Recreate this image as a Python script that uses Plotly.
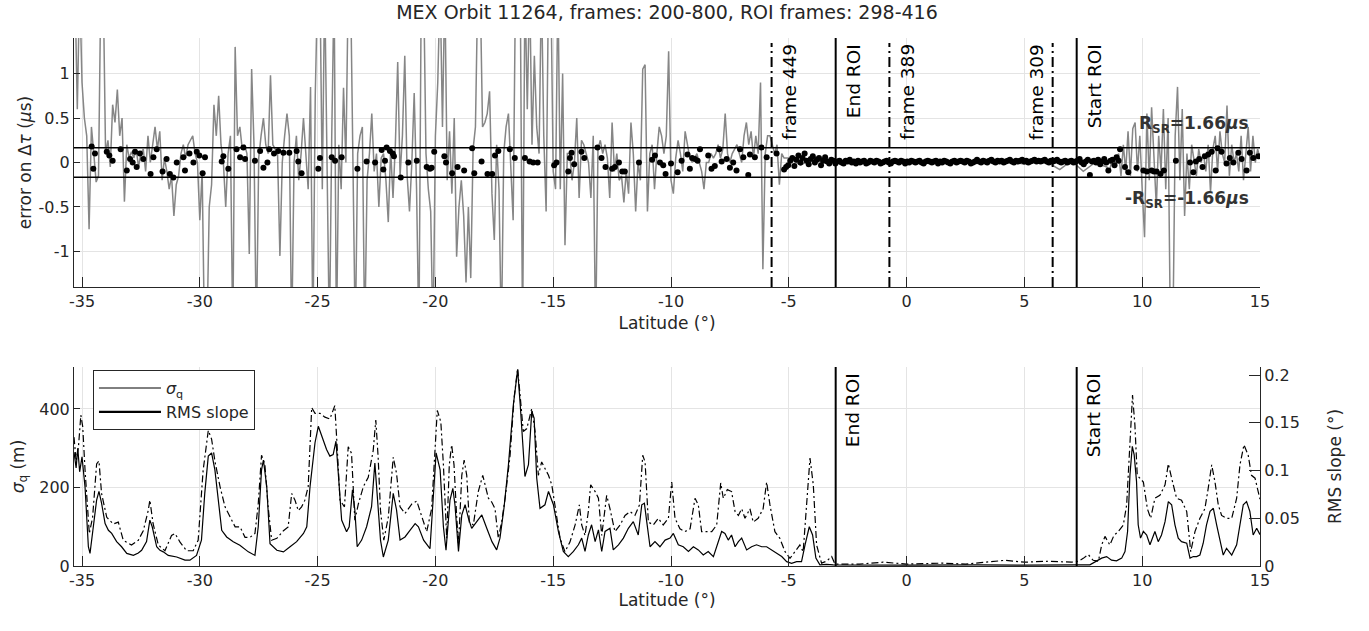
import numpy as np
import plotly.graph_objects as go

# ---------------- top panel: error on delta tau ----------------
# grey curve, one sample every 0.1 deg from -35.3 to -5.2
err_left = [
    2.0, 0.6, 2.0,
    0.9, 0.5, 0.3, -0.75, 0.4, 0.1, -0.22, -0.15, 2.0, 2.0,
    0.1, 0.25, -0.05, 0.65, 0.45, 0.82, 0.3, 0.5, -0.44, 0.2,
    0.05, 0.12, 0.05, 0.15, -0.05, 0.1, 0.15, -0.1, 0.3, 0.0,
    0.2, 0.4, 0.15, 0.35, -0.2, 0.05, -0.1, -0.3, -0.15, -0.6,
    -0.25, -0.15, 0.1, 0.2, 0.05, 0.2, 0.25, 0.3, 0.1, 0.0,
    -0.65, -0.1, -2.0, -2.0, -0.5, -0.25, 0.65, 0.3, 0.75, 0.2,
    0.0, -0.5, 0.1, 0.3, -2.0, 1.3, 0.3, 0.4, 0.15, 0.2,
    0.1, -1.03, 1.05, 0.2, -2.0, 0.05, 0.3, 0.5, 0.2, 0.1,
    0.98, 0.2, 0.15, 0.1, -1.05, 0.0, 0.3, 0.55, 0.3, -2.0,
    0.0, 0.3, -0.2, 0.1, 0.5, 0.1, -0.3, 0.85, -2.0, 0.75,
    2.0, 2.0, -0.3, 2.0, 0.2, -2.0, 0.3, 2.0, -2.0, 0.2,
    -0.3, 0.84, 0.0, 2.0, 2.0, 0.1, -2.0, 0.1, 0.3, 0.4,
    -2.0, -0.2, 0.1, 0.55, -0.1, 0.1, -0.5, 0.05, 0.1, -0.2,
    -0.67, 0.15, -0.4, 0.2, 1.13, -0.15, 0.3, 1.2, -0.15, -0.55,
    0.0, 0.78, -0.3, -2.0, 2.0, 2.0, 0.1, -0.3, -0.55, -2.0,
    0.3, 0.9, 2.0, 0.4, 2.0, -0.2, 0.35, -0.35, 0.5, -1.06,
    -0.5, -0.2, -0.6, -1.35, -0.5, -1.3, 0.15, 0.4, 2.0, 2.0,
    0.4, 0.45, 0.55, 0.8, -0.35, -0.87, 0.2, -0.3, -2.0, 0.1,
    0.4, 0.55, -0.1, -0.65, 2.0, 2.0, 2.0, -2.0, 2.0, 0.6,
    2.0, 0.2, 1.2, 0.4, 0.1, 2.0, 0.3, -0.55, 2.0, 2.0,
    -0.1, -0.3, 2.0, -0.3, 1.0, -0.93, 0.1, 0.1, -0.2, 0.0,
    0.5, -0.4, 0.25, 0.2, 0.1, 0.0, -0.4, 0.3, -2.0, 0.15,
    0.25, 0.1, 0.2, 0.05, -0.4, 0.45, -0.1, 0.1, -0.2, -0.15,
    -0.45, -0.1, -0.35, 0.45, 0.1, -0.55, 0.0, -0.2, 1.05, 1.1,
    -0.55, 0.1, 0.2, -0.3, 0.1, 0.4, 0.3, 0.1, 0.3, 1.25,
    -0.2, -0.35, 0.05, 0.25, 0.1, -0.1, 0.35, 0.2, 0.05, 0.0,
    0.05, 0.1, 0.0, -0.1, -0.3, 0.0, 0.0, 0.1, 0.05, 0.1,
    0.2, 0.05, 0.15, 0.55, 0.1, 0.0, 0.1, 0.15, 0.2, 0.1,
    0.0, 0.3, 0.45, 0.2, 0.35, 0.05, 0.3, 0.1, 0.9, -1.2,
    0.1, 0.3, 0.3, 0.2, 0.1, 0.2, -0.25, 0.1, 0.05,
]
# inside the ROI, one sample every 0.5 deg from -5.0 to 8.5
err_mid = [0.05, -0.03, 0.04, 0.0, 0.02, -0.01, 0.02, 0.01, 0.0, 0.02,
           -0.02, 0.01, 0.02, 0.0, -0.01, 0.02, 0.01, 0.0, 0.02, 0.01,
           -0.02, 0.03, 0.0, -0.08, 0.02, -0.1, 0.0, -0.05]
# one sample every 0.1 deg from 8.6 to 15.0
err_right = [
    -0.1, 0.0, -0.05, 0.05,
    0.1, -0.15, 0.2, -0.1, 0.35, -0.15, 0.38, 0.45, -0.1, 0.3,
    -0.3, -0.84, 0.55, -0.2, 0.62, 0.1, -0.5, 0.3, -0.1, 0.6,
    -0.3, 0.5, -2.0, -2.0, 0.3, 0.85, -0.2, 0.6, -0.6, 0.1,
    -0.3, 0.2, 0.0, -0.15, 0.15, 0.0, 0.1, -0.1, 0.2, -0.33,
    0.15, 0.3, -0.1, 0.35, 0.1, 0.0, 0.64, -0.15, 0.2, 0.0,
    0.1, -0.1, 0.3, -0.2, 0.1, 0.4, -0.1, 0.3, 0.0, 0.15,
    0.05,
]

# black dots: outside the ROI read point by point
dot_lat_a = [-34.59, -34.52, -34.45, -33.95, -33.84, -33.70, -33.36, -33.10, -32.96, -32.85,
             -32.75, -32.68, -32.54, -32.40, -32.09, -31.97, -31.83, -31.58, -31.41, -31.27,
             -31.12, -30.98, -30.70, -30.63, -30.44, -30.27, -30.13, -30.02, -29.88, -29.78,
             -29.07, -29.00, -28.79, -28.44, -28.29, -28.15, -28.08, -27.66, -27.44, -27.30,
             -27.13, -27.05, -26.85, -26.67, -26.45, -26.20, -25.89, -25.82, -25.68, -24.97,
             -24.90, -24.40, -24.26, -23.98, -23.31, -22.92, -22.56, -22.28, -22.21, -22.14,
             -22.07, -21.93, -21.81, -21.76, -21.47, -21.15, -20.79]
dot_err_a = [0.18, -0.07, 0.10, 0.12, 0.08, 0.02, 0.15, -0.09, 0.04, 0.00,
             0.12, -0.05, 0.10, 0.04, -0.13, 0.06, 0.15, -0.10, 0.04, -0.13,
             -0.17, 0.00, 0.06, -0.09, 0.10, 0.00, 0.12, 0.08, -0.12, 0.06,
             0.01, 0.07, -0.07, 0.15, 0.06, 0.17, 0.04, 0.02, 0.13, -0.06,
             0.00, 0.15, 0.10, 0.13, 0.11, 0.11, 0.13, 0.01, -0.12, -0.07,
             0.05, 0.06, 0.02, 0.06, -0.07, 0.01, 0.00, 0.14, -0.08, 0.02,
             0.17, 0.13, 0.10, 0.07, -0.17, 0.00, 0.02]
dot_lat_b = [-20.37, -20.23, -20.16, -20.05, -19.62, -19.55, -19.29, -19.06, -18.78,
             -18.44, -18.35, -18.04, -17.79, -17.59, -17.47, -17.33, -16.84, -16.63, -16.20,
             -16.00, -15.85, -15.66, -14.96, -14.86, -14.36, -14.29, -14.22, -14.11, -13.80,
             -13.68, -13.12, -12.95, -12.78, -12.50, -12.38, -12.21, -12.07, -11.96, -11.36,
             -10.80, -10.68, -10.47, -10.33, -10.23, -10.00, -9.72, -9.55, -9.30, -9.20,
             -9.10, -8.98, -8.87, -8.77, -8.42, -8.28, -8.14, -7.95, -7.85, -7.64,
             -7.50, -7.36, -7.22, -7.07, -6.93, -6.72, -6.65, -6.44, -6.16, -5.94,
             -5.52]
dot_err_b = [-0.05, -0.07, -0.06, 0.12, 0.07, 0.00, -0.12, -0.05, -0.09,
             0.16, -0.12, 0.01, -0.13, -0.13, 0.08, 0.13, 0.15, 0.05, 0.05,
             0.01, 0.00, 0.00, -0.03, 0.00, -0.10, 0.05, 0.11, -0.02, 0.12,
             0.05, 0.17, 0.05, -0.05, -0.07, -0.05, 0.00, -0.10, -0.10, 0.00,
             0.03, 0.08, 0.00, -0.03, -0.13, -0.01, -0.11, 0.02, 0.09, -0.07,
             0.05, 0.04, 0.02, 0.15, 0.08, -0.07, -0.04, 0.15, 0.01, 0.04,
             -0.06, 0.00, -0.09, 0.15, 0.06, -0.14, 0.09, 0.06, 0.17, 0.06,
             0.10]
# dense dots, one per frame from -5.2 to 9.0
dot_err_roi = [
    -0.08, -0.05, -0.03, 0.02, 0.05, -0.04, 0.03, 0.08, 0.0, 0.05,
    0.10, 0.02, -0.02, 0.04, 0.07, 0.0, 0.03, 0.05, -0.03, 0.02,
    0.06, 0.01, -0.01, 0.03, 0.02, -0.01,
    0.01, 0.02, 0.0, -0.01, 0.02, 0.01, 0.03, 0.0, 0.01, -0.01,
    0.02, 0.0, 0.01, 0.02, -0.01, 0.0, 0.02, 0.01, 0.0, 0.02,
    0.01, -0.01, 0.0, 0.01, 0.02, 0.0, -0.01, 0.01, 0.02, 0.01,
    0.0, 0.02, 0.01, -0.01, 0.01, 0.0, 0.02, 0.01, 0.0, 0.01,
    0.02, 0.0, -0.01, 0.01, 0.02, 0.01, 0.0, 0.01, 0.02, -0.01,
    0.01, 0.0, 0.02, 0.01, 0.0, -0.01, 0.01, 0.02, 0.0, 0.01,
    0.02, 0.01, 0.0, 0.02, 0.01, -0.01, 0.0, 0.01, 0.03, 0.01,
    0.0, 0.02, 0.01, 0.0, 0.02, 0.03, 0.01, 0.0, 0.02, 0.01,
    0.02, 0.0, 0.01, 0.02, 0.03, 0.01, 0.0, 0.02, 0.01, 0.02,
    0.03, 0.01, 0.02, 0.0, 0.01, 0.02, 0.03, 0.01, 0.02, 0.01,
    0.02, 0.03, 0.01, 0.0, 0.02, 0.01, 0.02, 0.03, 0.01, 0.0,
    0.01, 0.02, 0.0, 0.01, 0.02, 0.0, 0.01,
    0.02, 0.04, 0.0, -0.02, 0.01, 0.03, -0.14, 0.01, 0.02, 0.0,
    0.03, -0.02, 0.01, 0.04, 0.0, -0.09, 0.02, 0.03, -0.03, 0.06,
    0.02,
]
dot_lat_c = [9.06, 9.27, 9.41, 9.76, 10.05, 10.2, 10.4, 10.5, 10.61, 10.78,
             10.92, 11.43, 12.03, 12.17, 12.28, 12.42, 12.56, 12.66, 12.8, 12.95,
             13.12, 13.2, 13.37, 13.58, 13.72, 13.87, 14.08, 14.22, 14.43, 14.57,
             14.71, 14.93]
dot_err_c = [0.15, -0.05, -0.11, -0.06, -0.09, -0.10, -0.09, -0.10, -0.10, -0.13,
             -0.09, 0.02, 0.00, -0.11, 0.01, 0.04, -0.05, 0.07, 0.09, 0.12,
             -0.09, 0.16, 0.12, -0.01, 0.05, 0.00, 0.11, 0.04, -0.09, 0.11,
             0.05, 0.07]

R_SR = 0.166
frame_lines = {"frame 449": -5.73, "frame 389": -0.73, "frame 309": 6.2}
roi_lines = {"End ROI": -3.01, "Start ROI": 7.22}

# ---------------- bottom panel ----------------
sq_lat = [-35.34, -35.25, -35.18, -35.1, -35.0, -34.95, -34.87, -34.73, -34.66, -34.52,
          -34.38, -34.28, -34.17, -34.02, -33.88, -33.74, -33.53, -33.32, -33.1, -32.82,
          -32.61, -32.47, -32.26, -32.12, -32.02, -31.83, -31.69, -31.55, -31.34, -30.98,
          -30.63, -30.42, -30.14, -29.93, -29.79, -29.64, -29.5, -29.36, -29.21, -29.07,
          -28.86, -28.58, -28.3, -27.94, -27.66, -27.52, -27.38, -27.3, -27.16, -27.02,
          -26.73, -26.45, -26.17, -25.89, -25.6, -25.46, -25.32, -25.11, -24.97, -24.83,
          -24.62, -24.48, -24.34, -24.22, -24.12, -23.98, -23.77, -23.66, -23.52, -23.42,
          -23.32, -23.13, -22.92, -22.71, -22.57, -22.47, -22.33, -22.21, -22.0, -21.79,
          -21.65, -21.5, -21.29, -21.08, -20.86, -20.72, -20.5, -20.23, -20.08, -19.97,
          -19.8, -19.66, -19.55, -19.38, -19.26, -19.17, -19.02, -18.88, -18.74, -18.6,
          -18.46, -18.25, -18.03, -17.82, -17.6, -17.4, -17.26, -17.09, -16.9, -16.69,
          -16.51, -16.4, -16.29, -16.2, -16.05, -15.91, -15.81, -15.7, -15.56, -15.35,
          -15.2, -14.99, -14.78, -14.57, -14.36, -14.14, -13.93, -13.79, -13.65, -13.51,
          -13.37, -13.22, -13.08, -12.94, -12.8, -12.59, -12.45, -12.23, -12.02, -11.81,
          -11.6, -11.39, -11.24, -11.13, -11.03, -10.89, -10.68, -10.47, -10.25, -10.04,
          -9.9, -9.69, -9.48, -9.26, -9.05, -8.84, -8.63, -8.42, -8.2, -7.99,
          -7.85, -7.71, -7.57, -7.43, -7.28, -7.14, -7.0, -6.79, -6.58, -6.37,
          -6.15, -5.94, -5.73, -5.52, -5.3, -5.09, -4.88, -4.67, -4.46, -4.31,
          -4.13, -3.99, -3.85, -3.68, -3.4, -3.11, 0.0, 3.0, 5.0, 7.22,
          7.78, 8.28, 8.49, 8.7, 8.91, 9.13, 9.27, 9.38, 9.48, 9.58,
          9.66, 9.76, 9.83, 9.93, 10.05, 10.19, 10.33, 10.54, 10.68, 10.82,
          10.97, 11.11, 11.25, 11.39, 11.53, 11.67, 11.89, 12.03, 12.17, 12.31,
          12.45, 12.59, 12.73, 12.88, 13.02, 13.16, 13.3, 13.44, 13.58, 13.8,
          14.01, 14.15, 14.29, 14.43, 14.57, 14.71, 14.86, 15.0]
sq_m = [290, 250, 300, 240, 278, 240, 200, 49, 32, 100,
        168, 190, 160, 108, 91, 83, 62, 49, 32, 27,
        33, 40, 62, 117, 100, 49, 40, 36, 27, 23,
        15, 15, 27, 66, 185, 280, 288, 245, 160, 91,
        74, 62, 53, 36, 27, 100, 245, 270, 203, 57,
        40, 36, 49, 62, 83, 100, 203, 314, 356, 331,
        297, 280, 284, 318, 228, 117, 87, 100, 194, 143,
        49, 66, 100, 151, 262, 185, 66, 23, 66, 185,
        143, 66, 74, 91, 108, 100, 66, 44, 185, 288,
        245, 100, 40, 168, 198, 156, 37, 130, 156, 122,
        96, 113, 130, 96, 62, 41, 71, 147, 258, 411,
        500, 411, 292, 228, 258, 394, 377, 224, 147, 156,
        190, 156, 88, 37, 24, 37, 54, 71, 37, 79,
        105, 62, 92, 37, 88, 96, 41, 54, 71, 96,
        113, 79, 156, 160, 113, 49, 62, 49, 66, 71,
        83, 54, 49, 37, 49, 41, 28, 37, 24, 62,
        88, 83, 66, 79, 49, 62, 71, 41, 49, 54,
        49, 49, 41, 32, 24, 11, 7, 11, 11, 54,
        100, 79, 20, 3, 4, 3, 2, 3, 2, 3,
        3, 20, 24, 15, 13, 20, 37, 88, 232, 305,
        283, 215, 105, 71, 88, 79, 54, 88, 62, 79,
        113, 164, 156, 105, 71, 62, 58, 20, 24, 24,
        28, 58, 105, 139, 147, 105, 62, 28, 45, 28,
        54, 105, 156, 164, 139, 79, 96, 80]

rms_lat = [-35.34, -35.25, -35.15, -35.05, -34.97, -34.87, -34.69, -34.55, -34.38, -34.28,
           -34.17, -33.95, -33.67, -33.46, -33.25, -32.9, -32.61, -32.4, -32.19, -32.12,
           -31.98, -31.76, -31.48, -31.2, -31.05, -30.84, -30.56, -30.28, -30.07, -29.86,
           -29.64, -29.5, -29.36, -29.14, -28.93, -28.72, -28.5, -28.29, -28.08, -27.87,
           -27.66, -27.52, -27.38, -27.24, -27.1, -26.95, -26.73, -26.45, -26.25, -26.1,
           -25.96, -25.82, -25.68, -25.54, -25.4, -25.25, -25.11, -24.9, -24.69, -24.48,
           -24.27, -24.17, -24.05, -23.86, -23.7, -23.56, -23.42, -23.27, -23.06, -22.85,
           -22.64, -22.53, -22.43, -22.33, -22.19, -22.0, -21.79, -21.65, -21.5, -21.29,
           -21.0, -20.79, -20.58, -20.37, -20.16, -20.01, -19.92, -19.77, -19.66, -19.52,
           -19.41, -19.31, -19.21, -19.1, -19.02, -18.88, -18.78, -18.67, -18.56, -18.39,
           -18.18, -17.99, -17.89, -17.75, -17.61, -17.47, -17.33, -17.19, -17.04, -16.83,
           -16.66, -16.51, -16.38, -16.27, -16.12, -15.91, -15.77, -15.63, -15.49, -15.35,
           -15.2, -15.06, -14.92, -14.71, -14.5, -14.29, -14.07, -13.89, -13.79, -13.65,
           -13.51, -13.41, -13.22, -13.08, -12.94, -12.73, -12.59, -12.38, -12.16, -11.95,
           -11.74, -11.53, -11.34, -11.2, -11.1, -10.96, -10.75, -10.54, -10.33, -10.11,
           -9.97, -9.83, -9.62, -9.41, -9.19, -8.98, -8.84, -8.7, -8.49, -8.27,
           -8.06, -7.89, -7.78, -7.61, -7.43, -7.28, -7.14, -7.0, -6.86, -6.65,
           -6.51, -6.3, -6.09, -5.94, -5.8, -5.59, -5.38, -5.16, -4.95, -4.74,
           -4.53, -4.39, -4.25, -4.1, -3.96, -3.82, -3.61, -3.4, -3.18, -3.04,
           -2.0, -1.0, 0.0, 1.5, 2.5, 3.5, 4.2, 5.0, 6.0, 7.0,
           7.29, 7.5, 7.71, 7.92, 8.14, 8.28, 8.42, 8.63, 8.8, 8.98,
           9.2, 9.34, 9.45, 9.59, 9.69, 9.79, 9.9, 10.05, 10.22, 10.36,
           10.54, 10.75, 10.97, 11.11, 11.25, 11.46, 11.67, 11.89, 12.06, 12.24,
           12.45, 12.66, 12.8, 12.95, 13.09, 13.23, 13.37, 13.58, 13.8, 14.01,
           14.15, 14.32, 14.5, 14.64, 14.79, 14.93, 15.0]
rms_deg = [0.135, 0.11, 0.125, 0.158, 0.146, 0.10, 0.034, 0.051, 0.107, 0.11,
           0.076, 0.051, 0.044, 0.046, 0.027, 0.022, 0.027, 0.037, 0.058, 0.069,
           0.044, 0.022, 0.016, 0.032, 0.034, 0.025, 0.016, 0.016, 0.027, 0.10,
           0.142, 0.133, 0.11, 0.083, 0.062, 0.051, 0.041, 0.041, 0.03, 0.03,
           0.034, 0.065, 0.116, 0.107, 0.062, 0.027, 0.029, 0.037, 0.041, 0.076,
           0.069, 0.058, 0.062, 0.069, 0.083, 0.166, 0.16, 0.16, 0.156, 0.154,
           0.168, 0.125, 0.069, 0.062, 0.125, 0.118, 0.048, 0.065, 0.083, 0.093,
           0.121, 0.153, 0.114, 0.058, 0.027, 0.051, 0.114, 0.097, 0.062, 0.055,
           0.065, 0.068, 0.051, 0.036, 0.06, 0.134, 0.163, 0.151, 0.106, 0.029,
           0.106, 0.127, 0.106, 0.053, 0.022, 0.095, 0.111, 0.095, 0.046, 0.043,
           0.078, 0.095, 0.085, 0.071, 0.067, 0.06, 0.029, 0.046, 0.071, 0.116,
           0.176, 0.207, 0.172, 0.141, 0.144, 0.165, 0.141, 0.095, 0.109, 0.102,
           0.095, 0.085, 0.064, 0.029, 0.015, 0.025, 0.043, 0.064, 0.043, 0.032,
           0.057, 0.085, 0.078, 0.071, 0.032, 0.074, 0.06, 0.036, 0.043, 0.053,
           0.057, 0.053, 0.064, 0.116, 0.109, 0.046, 0.043, 0.05, 0.043, 0.05,
           0.088, 0.05, 0.039, 0.036, 0.039, 0.071, 0.064, 0.036, 0.036, 0.036,
           0.043, 0.087, 0.071, 0.08, 0.078, 0.057, 0.053, 0.06, 0.05, 0.06,
           0.046, 0.05, 0.06, 0.088, 0.064, 0.036, 0.029, 0.015, 0.008, 0.015,
           0.022, 0.015, 0.064, 0.113, 0.085, 0.022, 0.003, 0.005, 0.01, 0.002,
           0.002, 0.004, 0.002, 0.003, 0.002, 0.004, 0.006, 0.004, 0.005, 0.004,
           0.005, 0.008, 0.012, 0.006, 0.005, 0.022, 0.031, 0.022, 0.032, 0.036,
           0.043, 0.064, 0.12, 0.179, 0.148, 0.095, 0.092, 0.088, 0.06, 0.05,
           0.071, 0.074, 0.085, 0.107, 0.092, 0.071, 0.069, 0.057, 0.015, 0.036,
           0.05, 0.06, 0.081, 0.106, 0.088, 0.064, 0.053, 0.05, 0.05, 0.071,
           0.106, 0.127, 0.116, 0.095, 0.092, 0.078, 0.07]

lat_ticks = [-35, -30, -25, -20, -15, -10, -5, 0, 5, 10, 15]
err_ticks = [-1, -0.5, 0, 0.5, 1]
sq_ticks = [0, 200, 400]
rms_ticks = [0, 0.05, 0.1, 0.15, 0.2]

# ---------------- figure ----------------
FONT = "DejaVu Sans"
INK = "#262626"
GRID = "#e4e4e4"

lat_err = np.concatenate([
    -35.3 + 0.1 * np.arange(len(err_left)),
    -5.0 + 0.5 * np.arange(len(err_mid)),
    8.6 + 0.1 * np.arange(len(err_right)),
])
err = err_left + err_mid + err_right
dot_lat = np.concatenate([dot_lat_a, dot_lat_b,
                          np.linspace(-5.2, 9.0, len(dot_err_roi)), dot_lat_c])
dot_err = dot_err_a + dot_err_b + dot_err_roi + dot_err_c

fig = go.Figure()
fig.add_trace(go.Scatter(x=lat_err, y=err, mode="lines",
                         line=dict(color="#868686", width=1.5), showlegend=False,
                         xaxis="x", yaxis="y"))
fig.add_trace(go.Scatter(x=dot_lat, y=dot_err, mode="markers",
                         marker=dict(color="black", size=6), showlegend=False,
                         xaxis="x", yaxis="y"))
fig.add_trace(go.Scatter(x=sq_lat, y=sq_m, mode="lines",
                         line=dict(color="black", width=1.2), showlegend=False,
                         xaxis="x2", yaxis="y2"))
fig.add_trace(go.Scatter(x=rms_lat, y=rms_deg, mode="lines",
                         line=dict(color="black", width=1.2, dash="7px,3px,2px,3px"),
                         showlegend=False, xaxis="x2", yaxis="y3"))
# legend samples (the original legend shows plain solid lines)
fig.add_trace(go.Scatter(x=[None], y=[None], mode="lines", name="<i>σ</i><sub>q</sub>",
                         line=dict(color="black", width=1), xaxis="x2", yaxis="y2"))
fig.add_trace(go.Scatter(x=[None], y=[None], mode="lines", name="RMS slope",
                         line=dict(color="black", width=2.2), xaxis="x2", yaxis="y2"))

tick_txt = lambda vals: [f"{v:g}" for v in vals]

xcommon = dict(range=[-35.34, 15.0005], tickvals=lat_ticks, ticktext=tick_txt(lat_ticks),
               ticks="inside", ticklen=10, tickcolor=INK, showline=True, linecolor=INK,
               linewidth=1, showgrid=True, gridcolor=GRID, zeroline=False,
               tickfont=dict(size=16, color=INK))
ycommon = dict(ticks="inside", ticklen=6, tickcolor=INK, showline=True, linecolor=INK,
               linewidth=1, showgrid=True, gridcolor=GRID, zeroline=False,
               tickfont=dict(size=16, color=INK))

TOP = [0.5284, 1.0]
BOT = [0.0, 0.3769]

fig.update_layout(
    width=1369, height=631,
    margin=dict(l=74, r=109, t=38, b=65),
    paper_bgcolor="white", plot_bgcolor="white",
    font=dict(family=FONT, color=INK, size=16),
    title=dict(text="MEX Orbit 11264, frames: 200-800, ROI frames: 298-416",
               x=0.4872, xanchor="center", y=0.981, yanchor="middle",
               font=dict(size=19, color=INK)),
    xaxis=dict(xcommon, anchor="y", domain=[0, 1],
               title=dict(text="Latitude (°)", font=dict(size=17), standoff=6)),
    yaxis=dict(ycommon, domain=TOP, range=[-1.4, 1.4], tickvals=err_ticks,
               ticktext=tick_txt(err_ticks), anchor="x",
               title=dict(text="error on Δ<i>τ</i> (<i>µ</i>s)", font=dict(size=17), standoff=2)),
    xaxis2=dict(xcommon, anchor="y2", domain=[0, 1],
                title=dict(text="Latitude (°)", font=dict(size=17), standoff=4)),
    yaxis2=dict(ycommon, domain=BOT, range=[0, 507], tickvals=sq_ticks,
                ticktext=tick_txt(sq_ticks), anchor="x2",
                title=dict(text="<i>σ</i><sub>q</sub> (m)", font=dict(size=17), standoff=10)),
    yaxis3=dict(ycommon, overlaying="y2", side="right", range=[0, 0.2085],
                tickvals=rms_ticks, ticktext=tick_txt(rms_ticks), anchor="x2",
                showgrid=False, ticklen=11,
                title=dict(text="RMS slope (°)", font=dict(size=17), standoff=30)),
    legend=dict(x=0.016, y=0.371, xanchor="left", yanchor="top", bgcolor="white",
                bordercolor=INK, borderwidth=1, itemwidth=62,
                font=dict(size=16, color=INK)),
)

shapes = []
# +/- R_SR band
for yv in (R_SR, -R_SR):
    shapes.append(dict(type="line", xref="x domain", yref="y", x0=0, x1=1, y0=yv, y1=yv,
                       line=dict(color="black", width=1.5)))
# frame markers (dash-dot) and ROI limits (solid)
for name, lat in frame_lines.items():
    shapes.append(dict(type="line", xref="x", yref="y domain", x0=lat, x1=lat, y0=0, y1=0.98,
                       line=dict(color="black", width=2, dash="10px,4px,2px,4px")))
for name, lat in roi_lines.items():
    for xr, yr in (("x", "y domain"), ("x2", "y2 domain")):
        shapes.append(dict(type="line", xref=xr, yref=yr, x0=lat, x1=lat, y0=0, y1=1,
                           line=dict(color="black", width=2)))
fig.update_layout(shapes=shapes)

ann = []
lab_font = dict(size=18.5, color="black")
for name, lat in frame_lines.items():
    right_side = name != "frame 309"
    ann.append(dict(text=name, x=lat, xref="x", y=1, yref="y domain", yanchor="top",
                    xanchor="left" if right_side else "right",
                    xshift=5 if right_side else -4, yshift=-4,
                    textangle=-90, showarrow=False, font=lab_font))
for name, lat in roi_lines.items():
    for xr, yr in (("x", "y domain"), ("x2", "y2 domain")):
        ann.append(dict(text=name, x=lat, xref=xr, y=1, yref=yr, yanchor="top",
                        xanchor="left", xshift=5, yshift=-4, textangle=-90,
                        showarrow=False, font=lab_font))
rs_font = dict(size=17, color="#333333")
ann.append(dict(text="<b>R<sub>SR</sub>=1.66<i>µ</i>s</b>", x=14.6, xref="x", y=0.43,
                yref="y", xanchor="right", yanchor="middle", showarrow=False, font=rs_font))
ann.append(dict(text="<b>-R<sub>SR</sub>=-1.66<i>µ</i>s</b>", x=14.6, xref="x", y=-0.42,
                yref="y", xanchor="right", yanchor="middle", showarrow=False, font=rs_font))
fig.update_layout(annotations=ann)

fig.write_html("out.html", config={"displayModeBar": False},
               post_script="document.body.style.margin='0';")
